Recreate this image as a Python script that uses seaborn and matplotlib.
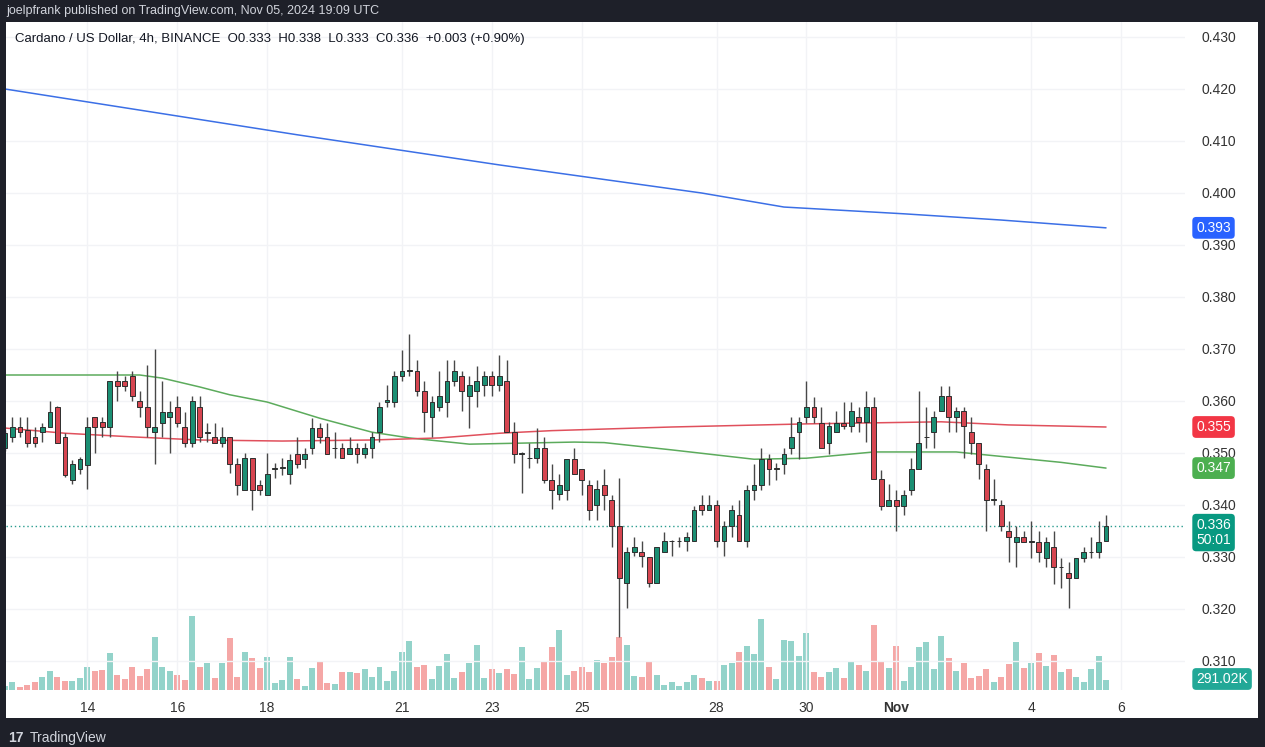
import numpy as np
import matplotlib
matplotlib.use('Agg')
import matplotlib.pyplot as plt
import seaborn as sns
from matplotlib.transforms import blended_transform_factory

# ADA/USD 4h candles, Oct 12 04:00 -> Nov 05 16:00 (UTC)
opens = [.3510, .3531, .3550, .3545, .3531, .3540, .3550, .3588, .3531, .3448,
         .3469, .3477, .3569, .3560, .3550, .3638, .3638, .3648, .3600, .3588,
         .3540, .3558, .3569, .3588, .3550, .3519, .3588, .3538, .3531, .3519,
         .3531, .3479, .3429, .3490, .3438, .3419, .3470, .3472, .3460, .3498,
         .3489, .3509, .3549, .3530, .3509, .3509, .3499, .3509, .3499, .3509,
         .3540, .3599, .3599, .3649, .3658, .3658, .3620, .3569, .3589, .3599,
         .3639, .3649, .3609, .3620, .3630, .3649, .3630, .3639, .3540, .3499,
         .3490, .3490, .3509, .3449, .3422, .3429, .3489, .3470, .3439, .3400,
         .3439, .3410, .3359, .3250, .3309, .3309, .3300, .3250, .3309, .3330,
         .3330, .3330, .3330, .3400, .3391, .3400, .3330, .3360, .3381, .3330,
         .3429, .3439, .3489, .3470, .3479, .3509, .3540, .3569, .3588, .3557,
         .3520, .3541, .3558, .3551, .3570, .3560, .3589, .3450, .3399, .3410,
         .3399, .3429, .3469, .3530, .3540, .3580, .3610, .3570, .3580, .3540,
         .3520, .3469, .3410, .3400, .3350, .3329, .3339, .3329, .3329, .3299,
         .3320, .3280, .3270, .3260, .3299, .3309, .3309, .3330]
highs = [.3544, .3569, .3569, .3569, .3550, .3558, .3600, .3590, .3538, .3487,
         .3492, .3569, .3569, .3569, .3638, .3658, .3648, .3658, .3619, .3669,
         .3700, .3638, .3600, .3610, .3579, .3610, .3610, .3558, .3558, .3550,
         .3531, .3490, .3500, .3490, .3448, .3500, .3481, .3490, .3498, .3530,
         .3509, .3568, .3558, .3558, .3540, .3519, .3530, .3519, .3519, .3540,
         .3599, .3631, .3658, .3699, .3729, .3679, .3639, .3609, .3658, .3679,
         .3679, .3658, .3649, .3668, .3658, .3658, .3689, .3679, .3559, .3502,
         .3519, .3549, .3530, .3479, .3460, .3489, .3509, .3470, .3448, .3448,
         .3469, .3419, .3452, .3320, .3339, .3330, .3300, .3319, .3349, .3332,
         .3339, .3349, .3398, .3419, .3419, .3410, .3370, .3400, .3410, .3439,
         .3479, .3509, .3499, .3480, .3509, .3570, .3570, .3638, .3608, .3589,
         .3560, .3580, .3599, .3599, .3589, .3619, .3608, .3467, .3440, .3429,
         .3429, .3490, .3619, .3589, .3580, .3629, .3629, .3589, .3589, .3570,
         .3520, .3478, .3450, .3410, .3369, .3360, .3350, .3369, .3350, .3339,
         .3350, .3299, .3290, .3299, .3320, .3339, .3369, .3380]
lows = [.3504, .3521, .3531, .3512, .3512, .3521, .3550, .3519, .3454, .3440,
        .3460, .3431, .3500, .3531, .3531, .3600, .3619, .3600, .3569, .3531,
        .3479, .3531, .3500, .3550, .3512, .3512, .3521, .3521, .3519, .3512,
        .3462, .3419, .3429, .3390, .3419, .3419, .3452, .3458, .3441, .3471,
        .3471, .3498, .3519, .3499, .3490, .3490, .3499, .3480, .3490, .3490,
        .3522, .3589, .3589, .3639, .3649, .3610, .3540, .3530, .3580, .3569,
        .3629, .3580, .3549, .3589, .3609, .3609, .3620, .3540, .3480, .3423,
        .3471, .3480, .3442, .3392, .3410, .3410, .3460, .3419, .3371, .3371,
        .3390, .3320, .3146, .3201, .3301, .3281, .3242, .3250, .3309, .3301,
        .3320, .3311, .3330, .3381, .3391, .3320, .3301, .3339, .3330, .3320,
        .3410, .3429, .3439, .3448, .3460, .3499, .3489, .3558, .3558, .3510,
        .3499, .3541, .3547, .3541, .3541, .3522, .3450, .3390, .3399, .3350,
        .3381, .3419, .3469, .3510, .3510, .3580, .3541, .3541, .3490, .3499,
        .3450, .3350, .3400, .3350, .3290, .3280, .3329, .3299, .3290, .3280,
        .3249, .3240, .3201, .3260, .3290, .3299, .3299, .3330]
closes = [.3538, .3550, .3540, .3519, .3519, .3550, .3579, .3519, .3458, .3479,
          .3488, .3550, .3550, .3550, .3638, .3629, .3629, .3610, .3588, .3550,
          .3550, .3579, .3579, .3558, .3519, .3600, .3531, .3541, .3519, .3531,
          .3479, .3438, .3490, .3429, .3429, .3460, .3472, .3473, .3487, .3479,
          .3498, .3549, .3530, .3499, .3510, .3490, .3509, .3499, .3509, .3530,
          .3589, .3601, .3649, .3658, .3659, .3620, .3578, .3599, .3609, .3639,
          .3658, .3620, .3630, .3639, .3649, .3630, .3649, .3540, .3499, .3500,
          .3491, .3509, .3449, .3429, .3439, .3489, .3460, .3449, .3390, .3430,
          .3419, .3359, .3259, .3309, .3320, .3301, .3250, .3319, .3330, .3331,
          .3331, .3339, .3391, .3391, .3400, .3330, .3360, .3391, .3330, .3429,
          .3439, .3489, .3470, .3471, .3499, .3530, .3560, .3588, .3569, .3510,
          .3551, .3557, .3551, .3580, .3560, .3589, .3450, .3399, .3410, .3399,
          .3419, .3469, .3520, .3531, .3570, .3610, .3570, .3580, .3551, .3520,
          .3478, .3410, .3411, .3360, .3339, .3339, .3329, .3330, .3310, .3329,
          .3280, .3281, .3260, .3299, .3309, .3310, .3329, .3360]
# volume in thousands
volumes = [116, 233, 87, 146, 233, 378, 553, 378, 262, 262,
           349, 669, 553, 582, 1077, 437, 320, 669, 407, 611,
           1542, 669, 553, 437, 291, 2153, 669, 786, 349, 786,
           1513, 378, 1106, 931, 640, 960, 204, 291, 960, 320,
           116, 640, 844, 204, 175, 524, 524, 495, 611, 378,
           669, 262, 553, 1106, 1426, 669, 728, 320, 698, 1048,
           349, 524, 786, 1310, 349, 611, 495, 611, 466, 1251,
           320, 640, 815, 1251, 1746, 437, 553, 669, 524, 873,
           786, 960, 1542, 1310, 407, 378, 815, 437, 146, 233,
           116, 233, 437, 349, 262, 262, 728, 786, 1106, 1280,
           1048, 2066, 669, 320, 1455, 1426, 989, 1659, 524, 378,
           524, 640, 349, 844, 728, 553, 1892, 815, 640, 1280,
           262, 669, 1251, 1397, 611, 1571, 931, 553, 786, 349,
           407, 611, 233, 378, 757, 1397, 640, 786, 1077, 698,
           1019, 524, 611, 378, 233, 611, 989, 291]

# moving averages (candle index, value)
ma_blue_idx = [0, 39, 66, 93, 104, 120, 133, 147]
ma_blue = [.4200, .4112, .4054, .4000, .3973, .3960, .3948, .3933]
ma_green_idx = [0, 18, 21, 26, 30, 35, 42, 49, 54, 62, 69, 76, 80, 89, 100,
                107, 116, 127, 134, 141, 147]
ma_green = [.3650, .3650, .3644, .3627, .3612, .3598, .3567, .3540, .3529, .3517,
            .3519, .3521, .3520, .3506, .3488, .3490, .3502, .3502, .3492, .3482, .3471]
ma_red_idx = [0, 8, 17, 26, 37, 49, 58, 66, 73, 89, 107, 125, 134, 147]
ma_red = [.3548, .3538, .3531, .3525, .3523, .3525, .3529, .3538, .3543,
          .3550, .3556, .3560, .3554, .3550]

price_ticks = [0.31, 0.32, 0.33, 0.34, 0.35, 0.36, 0.37, 0.38, 0.39, 0.40, 0.41, 0.42, 0.43]
day_idx = [11, 23, 35, 53, 65, 77, 95, 107, 119, 137, 149]
day_labels = ['14', '16', '18', '21', '23', '25', '28', '30', 'Nov', '4', '6']

sns.set_theme(style="white")
plt.rcParams['font.family'] = ['Liberation Sans', 'DejaVu Sans']

W, H = 1265, 747
fig = plt.figure(figsize=(W / 100, H / 100), dpi=100, facecolor='#1e2029')

panel = fig.add_axes([6 / W, (H - 718) / H, (1258 - 6) / W, (718 - 22) / H])
panel.set_facecolor('white')
panel.set_xticks([]); panel.set_yticks([])
for s in panel.spines.values():
    s.set_visible(False)
panel.set_zorder(-10)

ax = fig.add_axes([6 / W, (H - 690) / H, (1185 - 6) / W, (690 - 22) / H])
ax2 = ax.twinx()
ax.set_zorder(ax2.get_zorder() + 1)
ax.patch.set_visible(False)
ax2.patch.set_visible(False)

n = len(opens)
x = np.arange(n)
o = np.array(opens); h = np.array(highs); l = np.array(lows); c = np.array(closes)
up = c >= o

# volume
vol_cols = np.where(up, '#93d3ca', '#f5a7a6')
ax2.bar(x, volumes, width=0.8, color=vol_cols, linewidth=0)
ax2.set_ylim(0, 668 * 29.1)
ax2.set_yticks([])

# grid
for p in price_ticks:
    ax.axhline(p, color='#f2f3f6', lw=1, zorder=0)
for d in day_idx:
    ax.axvline(d, color='#f2f3f6', lw=1, zorder=0)

# moving averages
sns.lineplot(x=ma_blue_idx, y=ma_blue, ax=ax, color='#3b6fe6', lw=1.1, legend=False, zorder=2)
sns.lineplot(x=ma_green_idx, y=ma_green, ax=ax, color='#5cab5c', lw=1.1, legend=False, zorder=2)
sns.lineplot(x=ma_red_idx, y=ma_red, ax=ax, color='#e0505c', lw=1.1, legend=False, zorder=2)

# current price line
ax.axhline(0.336, color='#2a9d8f', ls=(0, (1, 2)), lw=1, zorder=2)

# candles
ax.vlines(x, l, h, color='#484848', lw=1, zorder=3)
body = np.maximum(np.abs(c - o), 0.00008)
ax.bar(x, body, bottom=np.minimum(o, c), width=0.64,
       color=np.where(up, '#1b8f73', '#d64550'), edgecolor='#2e2e2e', linewidth=0.7, zorder=4)

ax.set_xlim((6 - 5) / 7.49, (1185 - 5) / 7.49)
ax.set_ylim(0.430 - (690 - 37) / 5200, 0.430 + (37 - 22) / 5200)

ax.yaxis.tick_right()
ax.set_yticks(price_ticks)
ax.set_yticklabels([f'{p:.3f}' for p in price_ticks])
ax.tick_params(axis='y', length=0, pad=12, labelsize=10, labelcolor='#333333')
ax.set_xticks(day_idx)
ax.set_xticklabels(day_labels)
ax.tick_params(axis='x', length=0, pad=8, labelsize=10, labelcolor='#333333')
for t in ax.get_xticklabels():
    if t.get_text() == 'Nov':
        t.set_fontweight('bold')
for a in (ax, ax2):
    for s in a.spines.values():
        s.set_visible(False)

# price labels on the scale
tr = blended_transform_factory(ax.transAxes, ax.transData)
lx = 1.0095
ax.text(lx, ma_blue[-1], '0.393', transform=tr, va='center', ha='left', color='white', fontsize=10,
        bbox=dict(boxstyle='round,pad=0.28', fc='#2962ff', ec='none'), clip_on=False)
ax.text(lx, ma_red[-1], '0.355', transform=tr, va='center', ha='left', color='white', fontsize=10,
        bbox=dict(boxstyle='round,pad=0.28', fc='#f23645', ec='none'), clip_on=False)
ax.text(lx, ma_green[-1], '0.347', transform=tr, va='center', ha='left', color='white', fontsize=10,
        bbox=dict(boxstyle='round,pad=0.28', fc='#4caf50', ec='none'), clip_on=False)
ax.text(lx, 0.3347, '0.336\n50:01', transform=tr, va='center', ha='left', color='white', fontsize=10,
        linespacing=1.15, bbox=dict(boxstyle='round,pad=0.28', fc='#089981', ec='none'), clip_on=False)
ax.text(lx, (690 - 679) / 668, '291.02K', transform=ax.transAxes, va='center', ha='left',
        color='white', fontsize=10,
        bbox=dict(boxstyle='round,pad=0.28', fc='#22a897', ec='none'), clip_on=False)

# header / legend / footer
fig.text(6 / W, 1 - 11 / H, 'joelpfrank published on TradingView.com, Nov 05, 2024 19:09 UTC',
         color='#d1d4dc', fontsize=9, va='center', ha='left')
fig.text(15 / W, 1 - 39 / H,
         'Cardano / US Dollar, 4h, BINANCE  O0.333  H0.338  L0.333  C0.336  +0.003 (+0.90%)',
         color='#131722', fontsize=9.5, va='center', ha='left')
fig.text(8 / W, 1 - 738 / H, '17', color='#d1d4dc', fontsize=10, fontweight='bold',
         va='center', ha='left')
fig.text(30 / W, 1 - 738 / H, 'TradingView', color='#d1d4dc', fontsize=10, va='center', ha='left')

fig.savefig('out.png', dpi=100, facecolor=fig.get_facecolor())
